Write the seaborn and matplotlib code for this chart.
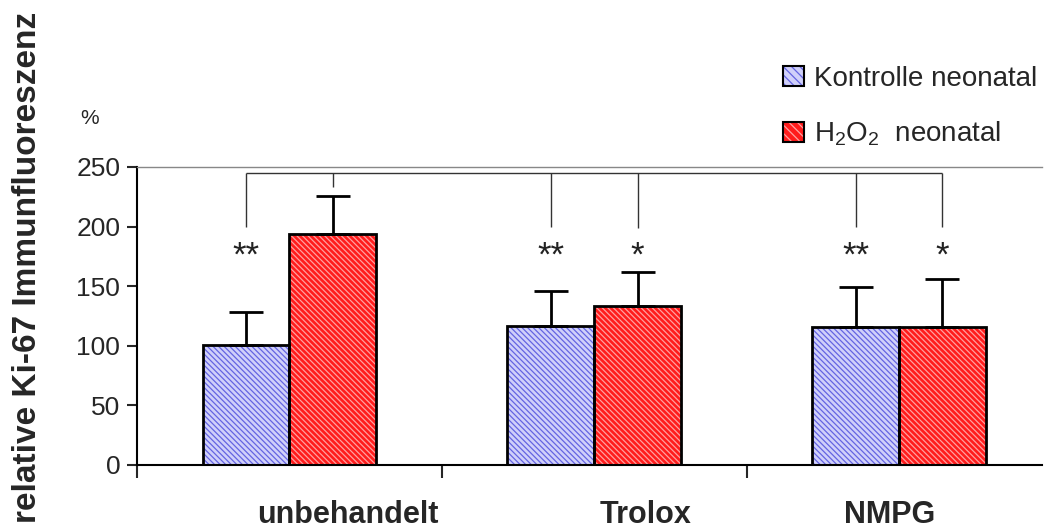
import numpy as np
import pandas as pd
import matplotlib
matplotlib.use("Agg")
import matplotlib.pyplot as plt
import seaborn as sns
from matplotlib.patches import Patch, Rectangle
from matplotlib.legend_handler import HandlerTuple

# ---- data ----
groups = ["unbehandelt", "Trolox", "NMPG"]
series = ["Kontrolle neonatal", r"H$_\mathregular{2}$O$_\mathregular{2}$  neonatal"]
kontrolle = [101, 117, 116]
kontrolle_err = [27, 29, 33]
h2o2 = [194, 133, 116]
h2o2_err = [32, 29, 40]
stars_k = ["**", "**", "**"]
stars_h = ["", "*", "*"]
bracket_level = 245
bracket_drop_k = [200, 200, 200]
bracket_drop_h = [233, 199, 200]
yticks = [0, 50, 100, 150, 200, 250]
ylabel = "relative Ki-67 Immunfluoreszenz"

# ---- style ----
sns.set_style("ticks")
plt.rcParams["font.family"] = ["Liberation Sans", "DejaVu Sans"]
plt.rcParams["mathtext.fontset"] = "custom"
plt.rcParams["mathtext.rm"] = "Liberation Sans"
plt.rcParams["mathtext.it"] = "Liberation Sans:italic"
plt.rcParams["mathtext.bf"] = "Liberation Sans:bold"
plt.rcParams["hatch.linewidth"] = 0.9

face = {"k": "#d0d0fa", "h": "#ff1c1c"}
hatchc = {"k": "#6464e2", "h": "#ffa0a0"}
hatch = "\\" * 6

df = pd.DataFrame({
    "group": groups * 2,
    "series": [series[0]] * 3 + [series[1]] * 3,
    "value": kontrolle + h2o2,
})

fig = plt.figure(figsize=(10.5, 5.32), dpi=100)
ax = fig.add_axes([137 / 1050, 1 - 465 / 532, 905 / 1050, 298 / 532])

sns.barplot(data=df, x="group", y="value", hue="series", order=groups,
            hue_order=series, width=0.57, palette=[face["k"], face["h"]],
            saturation=1, errorbar=None, legend=False, ax=ax,
            edgecolor="black", linewidth=0)

bars = [p for p in ax.patches if isinstance(p, Rectangle)]
kbars, hbars = bars[:3], bars[3:6]
for key, blist in (("k", kbars), ("h", hbars)):
    for p in blist:
        p.set_hatch(hatch)
        p.set_edgecolor(hatchc[key])
        p.set_linewidth(0)
        ax.add_patch(Rectangle((p.get_x(), p.get_y()), p.get_width(), p.get_height(),
                               fill=False, edgecolor="black", linewidth=2, zorder=3))

kx = [p.get_x() + p.get_width() / 2 for p in kbars]
hx = [p.get_x() + p.get_width() / 2 for p in hbars]

ax.errorbar(kx, kontrolle, yerr=[np.zeros(3), kontrolle_err], fmt="none",
            ecolor="black", elinewidth=2, capsize=12, capthick=2, zorder=4)
ax.errorbar(hx, h2o2, yerr=[np.zeros(3), h2o2_err], fmt="none",
            ecolor="black", elinewidth=2, capsize=12, capthick=2, zorder=4)

# significance brackets
bc = "#333333"
ax.hlines(bracket_level, kx[0], hx[-1], color=bc, linewidth=1)
ax.vlines(kx, bracket_drop_k, bracket_level, color=bc, linewidth=1)
ax.vlines(hx, bracket_drop_h, bracket_level, color=bc, linewidth=1)
for x, s in zip(kx + hx, stars_k + stars_h):
    if s:
        ax.text(x, 167, s, ha="center", va="baseline", fontsize=25, color="#222222")

# axes
ax.set_ylim(0, 250)
ax.set_xlim(-0.5, 2.469)
ax.set_yticks(yticks)
ax.tick_params(axis="y", direction="out", length=7, width=1.5, labelsize=19, pad=5)
label_offsets = [0.19, 0.17, -0.03]
ax.set_xticks([i + o for i, o in enumerate(label_offsets)])
ax.set_xticklabels(groups, fontsize=22, fontweight="bold")
ax.tick_params(axis="x", which="major", length=0, pad=25)
ax.set_xticks([-0.5, 0.5, 1.5], minor=True)
ax.tick_params(axis="x", which="minor", direction="out", length=9, width=1.5)
ax.set_xlabel("")
ax.set_ylabel(ylabel, fontsize=24, fontweight="bold")
ax.yaxis.label.set(rotation_mode="default", va="center", ha="center")
ax.yaxis.set_label_coords(-0.1215, 0.664)

for s in ("left", "bottom"):
    ax.spines[s].set_color("black")
    ax.spines[s].set_linewidth(1.5)
ax.spines["top"].set_color("#888888")
ax.spines["top"].set_linewidth(1)
ax.spines["right"].set_visible(False)

fig.text(90 / 1050, 1 - 118 / 532, "%", fontsize=15, ha="center", va="center")

handles = [
    (Patch(facecolor=face["k"], edgecolor=hatchc["k"], hatch="\\" * 4, linewidth=0),
     Patch(fill=False, edgecolor="black", linewidth=1.5)),
    (Patch(facecolor=face["h"], edgecolor=hatchc["h"], hatch="\\" * 4, linewidth=0),
     Patch(fill=False, edgecolor="black", linewidth=1.5)),
]
ax.legend(handles, series, handler_map={tuple: HandlerTuple(ndivide=1, pad=0)},
          loc="upper left", bbox_to_anchor=(783 / 1050, 1 - 66 / 532),
          bbox_transform=fig.transFigure, frameon=False, fontsize=20,
          handlelength=0.75, handleheight=0.75, handletextpad=0.35,
          labelspacing=1.0, borderaxespad=0, borderpad=0)

fig.savefig("out.png", dpi=100)
